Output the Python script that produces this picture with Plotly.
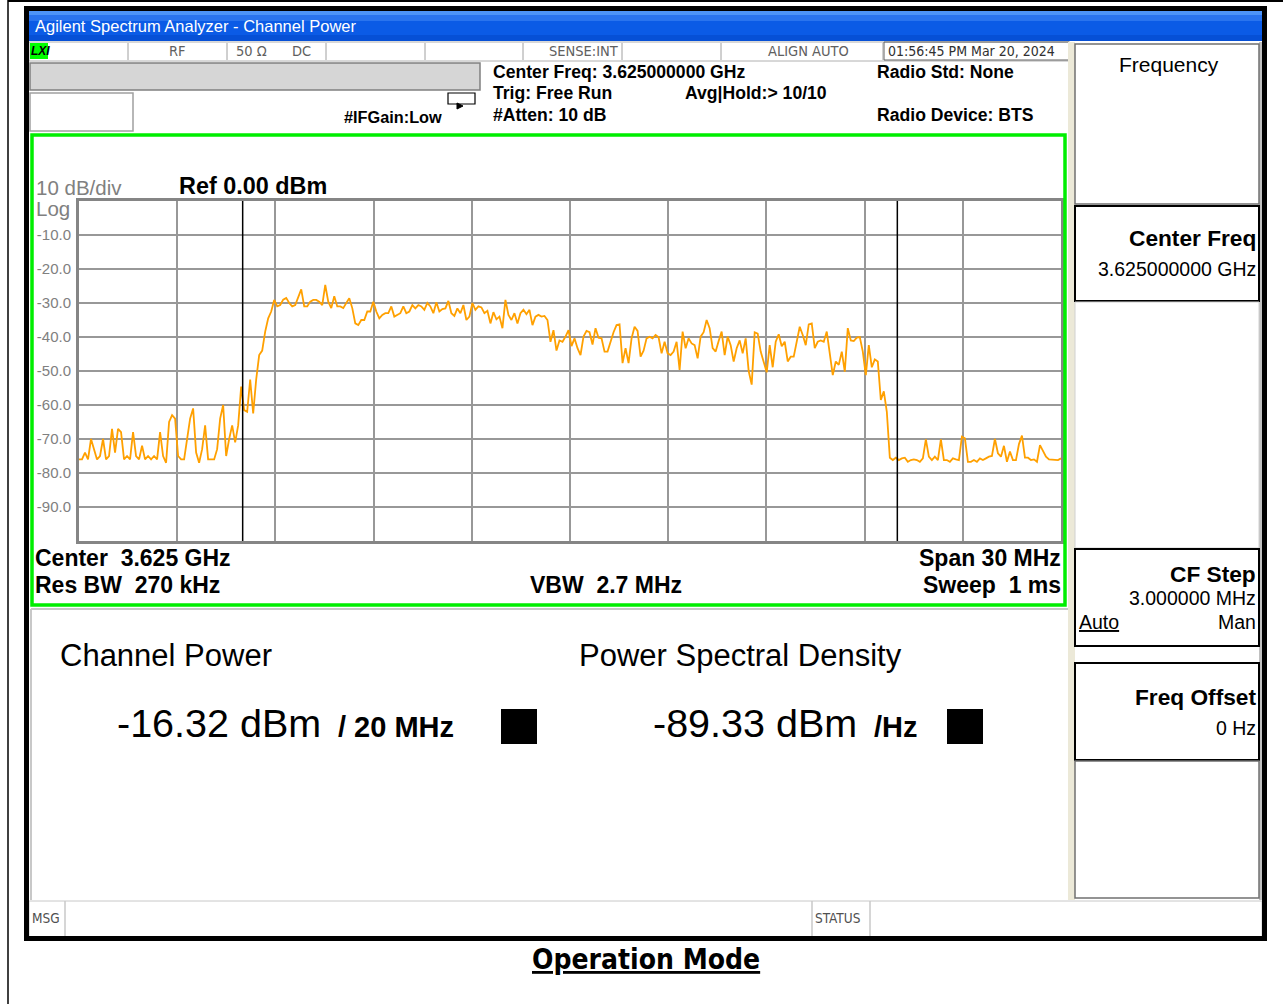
import numpy as np
import plotly.graph_objects as go

# ---------------- data ----------------
start_ghz = 3.610
stop_ghz = 3.640
center_ghz = 3.625
ibw_ghz = 0.020          # integration bandwidth (channel markers)
ref_level = 0.0
bottom_level = -100.0

ytick_vals = [-10, -20, -30, -40, -50, -60, -70, -80, -90]
ytick_text = ["-10.0", "-20.0", "-30.0", "-40.0", "-50.0", "-60.0", "-70.0", "-80.0", "-90.0"]

trace_noise_left = [
    -76, -76, -74, -76, -70, -73, -76, -75, -70, -76,
    -75, -67, -74, -67, -68, -76, -75, -76, -68, -75,
    -76, -72, -76, -75, -76, -75, -76, -68, -75, -77,
    -65, -63, -64, -75, -76, -76, -70, -64, -61, -74,
    -77, -73, -66, -76, -76, -76, -73, -64, -60, -75,
    -70, -66, -71, -66]
trace_rise = [
    -54.6, -61.5, -62, -52.5, -62.5, -52.5, -45.3, -44, -38.4, -34.5,
    -32.5, -29.1, -31, -30.6, -29, -28.5, -30, -31, -30.6, -28,
    -26, -31, -31, -29.6, -29.1, -29.1, -29.6, -30.6, -24.7, -29.6,
    -31.5, -28, -31, -31, -31.5, -30, -28.6, -31.5, -36, -36.5,
    -35, -35, -32.5, -32.5, -29.6, -32.5, -34.5, -33.5, -33, -33,
    -31, -34, -33.5, -33, -31]
trace_upper = [
    -33, -32.5, -30.6, -31.6, -30.6, -31, -32, -30, -31, -33,
    -29.8, -32.5, -31.8, -31.6, -29.4, -33, -33.8, -31.6, -33, -30.6,
    -35, -34, -30, -32, -31, -31.3, -33, -32.3, -36, -32.7,
    -34.8, -34, -37.4, -29.1, -33.5, -35, -33, -36, -33, -32,
    -33.3, -32, -36.5, -34, -33.5, -34, -33.8, -35, -41.4, -38,
    -44, -41]
trace_lower_a = [
    -41.4, -39.9, -38, -42.7, -40.4, -43.3, -45.3, -39.9, -38.2, -38.6,
    -42.2, -37.4, -40.2, -40.4, -44.3, -44.3, -41.4, -38.6, -36.5, -36.3,
    -47.7, -43.3, -47.7, -40.4, -37, -38.2, -45.8, -44, -40.4, -39.9,
    -40.4, -39.4, -40.1, -44.8, -41.4, -44.8, -45.3, -44.3, -41.4, -49.7,
    -38.4, -43.3, -40.4, -41.9, -42.4, -46.3, -39.9, -38.6, -35, -37.4,
    -43.3]
trace_lower_b = [
    -44.3, -41.2, -38.4, -45.3, -39.9, -42.4, -47.2, -43.3, -41, -44.8,
    -40.4, -50, -54, -38.6, -39, -44.3, -47.2, -50.4, -42.4, -48.9,
    -41.4, -39.2, -42.7, -41.4, -47.2, -45.8, -45.8, -41.4, -37, -39.4,
    -42.4, -36.3, -36, -43.3, -41.4, -41, -41.4, -38.4, -45.3, -51.2,
    -47.2, -48.2, -44.3, -50.2, -37.4, -41, -41.2, -40.2, -40, -44.3,
    -51.2, -42.4, -48.9, -46.6, -47.2]
trace_noise_right = [
    -58.5, -56, -62, -75.5, -76.2, -75.5, -76.2, -75.7, -75.5, -76.7,
    -76.2, -76, -76.2, -76.7, -75.7, -70.1, -75.2, -76.2, -75.2, -76.2,
    -70.1, -76.2, -76.2, -76.7, -75.7, -76, -76.2, -69.3, -69.8, -76.7,
    -76.7, -76.2, -76.7, -75.7, -76.2, -75.7, -75.2, -75, -70, -74.2,
    -75.2, -72, -76.7, -73.7, -76.2, -76.2, -71.5, -69, -75.5, -75.5,
    -76.2, -76, -76.7, -71.8, -73.5, -75.2, -76, -76, -76.2, -76.2,
    -75.7]

trace_dbm = (trace_noise_left + trace_rise + trace_upper +
             trace_lower_a + trace_lower_b + trace_noise_right)
freq_ghz = np.linspace(start_ghz, stop_ghz, len(trace_dbm))

# ---------------- helpers ----------------
W, H = 1283, 1004
SANS = "Liberation Sans, Arial, sans-serif"
NARROW = "DejaVu Sans Condensed, Arial Narrow, sans-serif"

def X(px):
    return px / W

def Y(py):
    return 1 - py / H

shapes = []
annots = []

def rect(x0, y0, x1, y1, fill=None, line=None, lw=1, layer="below"):
    shapes.append(dict(type="rect", xref="paper", yref="paper",
                       x0=X(x0), x1=X(x1), y0=Y(y1), y1=Y(y0),
                       fillcolor=fill if fill else "rgba(0,0,0,0)",
                       line=dict(color=line if line else "rgba(0,0,0,0)", width=lw if line else 0),
                       layer=layer))

def line(x0, y0, x1, y1, color="black", lw=1, layer="above"):
    shapes.append(dict(type="line", xref="paper", yref="paper",
                       x0=X(x0), x1=X(x1), y0=Y(y0), y1=Y(y1),
                       line=dict(color=color, width=lw), layer=layer))

def text(px, py, s, size, color="black", anchor="left", family=SANS, weight="normal", under=False):
    f = dict(size=size, color=color, family=family, weight=weight)
    if under:
        f["lineposition"] = "under"
    annots.append(dict(xref="paper", yref="paper", x=X(px), y=Y(py), text=s,
                       showarrow=False, xanchor=anchor, yanchor="middle",
                       font=f, borderpad=0))

# ---------------- chrome ----------------
# outer page lines
line(8, 0, 8, 1004, "black", 1.5, "below")
line(8, 1, 1283, 1, "black", 2, "below")

# screenshot background + black frame
rect(27, 9, 1265, 939, fill="white")
# title bar (pseudo-gradient)
rect(29, 11, 1262, 15, fill="#4d94f8")
rect(29, 15, 1262, 21, fill="#2a74ee")
rect(29, 21, 1262, 35, fill="#0b5be6")
rect(29, 35, 1262, 41, fill="#0650d6")
text(34, 26, "Agilent Spectrum Analyzer - Channel Power", 16.5, "white")

# status row
rect(29, 42, 1070, 61, fill="white", line="#b0b0b0", lw=1)
rect(30, 43, 48, 59, fill="#00ff00")
text(30, 51, "<i><b>LXI</b></i>", 12, "black")
for xd in [128, 227, 326, 425, 523, 622, 721, 883]:
    line(xd, 43, xd, 60, "#a0a0a0", 1)
rect(884, 42, 1069, 60, fill=None, line="#606060", lw=1)
text(177, 51, "RF", 14.5, "#606060", "center", NARROW)
text(235, 51, "50 Ω", 14.5, "#606060", "left", NARROW)
text(291, 51, "DC", 14.5, "#606060", "left", NARROW)
text(620, 51, "SENSE:INT", 14.5, "#606060", "right", NARROW)
text(850, 51, "ALIGN AUTO", 14.5, "#606060", "right", NARROW)
text(887, 51, "01:56:45 PM Mar 20, 2024", 14, "#303030", "left", NARROW)

# header area
rect(30, 63, 480, 90, fill="#d6d6d6", line="#808080", lw=1.5)
rect(30, 93, 133, 131, fill="white", line="#a0a0a0", lw=1.5)
rect(448, 93, 475, 104, fill=None, line="black", lw=1.2, layer="above")
shapes.append(dict(type="path", xref="paper", yref="paper",
                   path="M %f,%f L %f,%f L %f,%f Z" % (X(457), Y(103), X(457), Y(109), X(463), Y(106)),
                   fillcolor="black", line=dict(color="black", width=1)))
text(343, 117, "#IFGain:Low", 16.3, "black", "left", SANS, "bold")
text(492, 72, "Center Freq: 3.625000000 GHz", 17.6, "black", "left", SANS, "bold")
text(492, 93, "Trig: Free Run", 17.6, "black", "left", SANS, "bold")
text(684, 93, "Avg|Hold:&gt; 10/10", 17.6, "black", "left", SANS, "bold")
text(492, 115, "#Atten: 10 dB", 17.6, "black", "left", SANS, "bold")
text(876, 72, "Radio Std: None", 17.6, "black", "left", SANS, "bold")
text(876, 115, "Radio Device: BTS", 17.6, "black", "left", SANS, "bold")

# green frame around trace window
rect(32, 135, 1065, 605, fill=None, line="#00ee00", lw=3.5, layer="above")

text(35, 187, "10 dB/div", 20.5, "#808080")
text(35, 208, "Log", 20.5, "#808080")
text(178, 186, "Ref 0.00 dBm", 23.4, "black", "left", SANS, "bold")

text(34, 558, "Center  3.625 GHz", 23, "black", "left", SANS, "bold")
text(34, 585, "Res BW  270 kHz", 23, "black", "left", SANS, "bold")
text(529, 585, "VBW  2.7 MHz", 23, "black", "left", SANS, "bold")
text(1062, 558, "Span 30 MHz", 23, "black", "right", SANS, "bold")
text(1062, 585, "Sweep  1 ms", 23, "black", "right", SANS, "bold")

# measurement panel
line(31, 609, 1068, 609, "#c8c8c8", 2, "below")
line(31, 609, 31, 900, "#c8c8c8", 2, "below")
text(59, 655, "Channel Power", 31, "black")
text(578, 655, "Power Spectral Density", 31, "black")
text(116, 723, "-16.32 dBm", 39.5, "black")
text(337, 727, "/ 20 MHz", 29, "black", "left", SANS, "bold")
rect(501, 709, 537, 744, fill="black", layer="above")
text(652, 723, "-89.33 dBm", 39.5, "black")
text(873, 727, "/Hz", 29, "black", "left", SANS, "bold")
rect(947, 709, 983, 744, fill="black", layer="above")

# softkey column
rect(1068, 42, 1075, 900, fill="#ece9d8")
rect(1259, 42, 1262, 900, fill="#c0c0c0")
rect(1075, 44, 1259, 204, fill="white", line="#707070", lw=1.5)
text(1169, 65, "Frequency", 21, "black", "center")
rect(1075, 206, 1259, 301, fill="white", line="black", lw=2)
text(1257, 238, "Center Freq", 22.7, "black", "right", SANS, "bold")
text(1257, 269, "3.625000000 GHz", 19.5, "black", "right")
rect(1075, 302, 1259, 548, fill="white", line="#d0d0d0", lw=1)
rect(1075, 549, 1259, 646, fill="white", line="black", lw=2)
text(1257, 574, "CF Step", 22.7, "black", "right", SANS, "bold")
text(1257, 598, "3.000000 MHz", 19.5, "black", "right")
text(1078, 622, "Auto", 19.5, "black", "left", SANS, "normal", under=True)
text(1257, 622, "Man", 19.5, "black", "right")
rect(1075, 663, 1259, 760, fill="white", line="black", lw=2)
text(1257, 697, "Freq Offset", 22.7, "black", "right", SANS, "bold")
text(1257, 728, "0 Hz", 19.5, "black", "right")
rect(1075, 761, 1259, 898, fill="white", line="#707070", lw=1.5)

# message bar
rect(29, 901, 1262, 937, fill="white", line="#c8c8c8", lw=1)
line(65, 901, 65, 937, "#c8c8c8", 1.5, "below")
line(812, 901, 812, 937, "#c8c8c8", 1.5, "below")
line(870, 901, 870, 937, "#c8c8c8", 1.5, "below")
text(31, 918, "MSG", 13.5, "#505050", "left", NARROW)
text(814, 918, "STATUS", 13.5, "#505050", "left", NARROW)

# thick black frame of the screenshot
rect(26.5, 8.5, 1264.5, 938.5, fill=None, line="black", lw=5, layer="above")

# caption
text(646, 959, "Operation Mode", 28, "black", "center", NARROW, "bold", under=True)

# channel integration markers (data coordinates)
ch_lo = center_ghz - ibw_ghz / 2
ch_hi = center_ghz + ibw_ghz / 2
for xv in [ch_lo, ch_hi]:
    shapes.append(dict(type="line", xref="x", yref="y", x0=xv, x1=xv,
                       y0=bottom_level, y1=ref_level + 0.3,
                       line=dict(color="black", width=1.5), layer="above"))
shapes.append(dict(type="line", xref="x", yref="y", x0=ch_lo, x1=ch_hi,
                   y0=ref_level + 0.3, y1=ref_level + 0.3,
                   line=dict(color="black", width=1.5), layer="above"))

# ---------------- figure ----------------
fig = go.Figure()
fig.add_trace(go.Scatter(x=freq_ghz, y=trace_dbm, mode="lines",
                         line=dict(color="#ffa000", width=1.8),
                         hoverinfo="skip", showlegend=False))

fig.update_layout(
    width=W, height=H, margin=dict(l=0, r=0, t=0, b=0),
    paper_bgcolor="white", plot_bgcolor="rgba(0,0,0,0)",
    shapes=shapes, annotations=annots, showlegend=False,
    xaxis=dict(domain=[X(79), X(1061)], range=[start_ghz, stop_ghz],
               tick0=start_ghz, dtick=0.003, showgrid=True,
               gridcolor="#989898", gridwidth=2, zeroline=False,
               showticklabels=False, ticks="",
               showline=True, mirror=True, linecolor="#858585", linewidth=3),
    yaxis=dict(domain=[Y(541), Y(201)], range=[bottom_level, ref_level],
               tickvals=ytick_vals, ticktext=ytick_text, showgrid=True,
               gridcolor="#989898", gridwidth=2, zeroline=False, ticks="",
               ticklabelstandoff=2,
               tickfont=dict(size=15, color="#808080", family=SANS),
               showline=True, mirror=True, linecolor="#858585", linewidth=3),
)

fig.write_html("out.html", config={"displayModeBar": False},
               post_script="document.body.style.margin='0px';document.body.style.overflow='hidden';")
